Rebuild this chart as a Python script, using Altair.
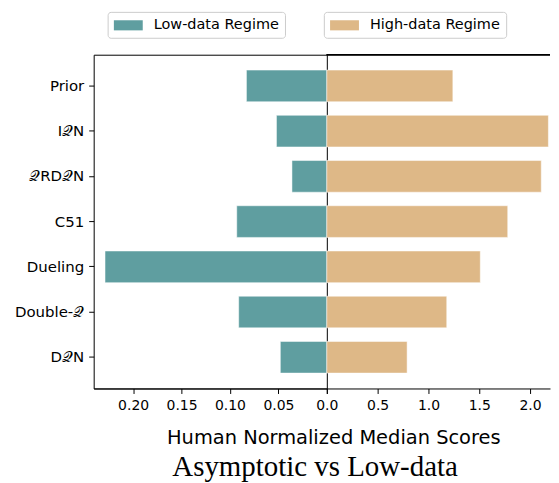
import altair as alt
import pandas as pd

methods = ["Prior", "I𝒬N", "𝒬RD𝒬N", "C51", "Dueling", "Double-𝒬", "D𝒬N"]
low_data = [0.083, 0.052, 0.036, 0.093, 0.229, 0.091, 0.048]
high_data = [1.24, 2.18, 2.11, 1.78, 1.51, 1.18, 0.79]
low_ticks = [0.20, 0.15, 0.10, 0.05, 0.0]
high_ticks = [0.0, 0.5, 1.0, 1.5, 2.0]
low_name = "Low-data Regime"
high_name = "High-data Regime"
x_title = "Human Normalized Median Scores"
chart_title = "Asymptotic vs Low-data"

df = pd.DataFrame({"method": methods, "low": low_data, "high": high_data,
                   "low_regime": low_name, "high_regime": high_name})

FONT = "DejaVu Sans"
TEAL = "#5F9EA0"
TAN = "#DEB887"

y_scale = alt.Scale(paddingInner=0.3, paddingOuter=0.34)

legend_common = dict(
    title=None, orient="none", direction="horizontal", strokeColor="#cccccc",
    cornerRadius=3, padding=6, fillColor="white",
    symbolType="M-2,-0.7L2,-0.7L2,0.7L-2,0.7Z", symbolSize=210,
    symbolOffset=7.25, labelOffset=18, labelFontSize=14.5, labelFont=FONT,
    labelColor="black", symbolStrokeWidth=0, legendY=-43,
)

left = alt.Chart(df).mark_bar(stroke="white", strokeWidth=0.5).encode(
    y=alt.Y("method:N", sort=methods, scale=y_scale,
            axis=alt.Axis(title=None, labelFont=FONT, labelFontSize=15,
                          labelColor="black", tickColor="black", tickSize=5,
                          labelPadding=5, domain=False)),
    x=alt.X("low:Q", scale=alt.Scale(domain=[0, 0.2407], reverse=True, nice=False, zero=False),
            axis=alt.Axis(title=None, values=low_ticks, labelFont=FONT, labelFontSize=14,
                          labelColor="black", tickColor="black", tickSize=5,
                          labelPadding=5, labelFlush=False, grid=False, domainColor="black",
                          labelExpr="datum.value == 0 ? '' : format(datum.value, '.2f')")),
    color=alt.Color("low_regime:N", scale=alt.Scale(domain=[low_name], range=[TEAL]),
                    legend=alt.Legend(legendX=14, **legend_common)),
).properties(width=234, height=335)

right_bars = alt.Chart(df).mark_bar(stroke="white", strokeWidth=0.5).encode(
    y=alt.Y("method:N", sort=methods, scale=y_scale, axis=None),
    x=alt.X("high:Q", scale=alt.Scale(domain=[0, 2.196], nice=False),
            axis=alt.Axis(title=x_title, values=high_ticks, format=".1f", labelFont=FONT,
                          labelFontSize=14, labelColor="black", tickColor="black",
                          tickSize=5, labelPadding=5, labelFlush=False, grid=False,
                          domainColor="black",
                          titleFont=FONT, titleFontSize=19.5, titleFontWeight="normal",
                          titleColor="black", titleX=6.5, titleY=49.5, titleAlign="center",
                          titleBaseline="middle")),
    color=alt.Color("high_regime:N", scale=alt.Scale(domain=[high_name], range=[TAN]),
                    legend=alt.Legend(legendX=-3, **legend_common)),
)

top_line = alt.Chart(df).mark_rule(color="black", strokeWidth=1).encode(
    x=alt.value(0), x2=alt.value(224), y=alt.value(0)
)

right = alt.layer(right_bars, top_line).properties(
    width=224, height=335, view=alt.ViewBackground(strokeOpacity=0)
)

chart = alt.hconcat(left, right, spacing=0, bounds="flush").resolve_scale(
    color="independent"
).resolve_legend(color="independent").properties(
    title=alt.TitleParams(chart_title, orient="bottom", anchor="middle",
                          font="Liberation Serif", fontSize=29, fontWeight="normal",
                          color="black", offset=6, dx=33),
    padding={"left": 5, "right": 0, "top": 2, "bottom": 2},
).configure_view(stroke="black", strokeWidth=1).configure_concat(spacing=0)

chart.save("out.html", embed_options={"renderer": "svg", "actions": False})
